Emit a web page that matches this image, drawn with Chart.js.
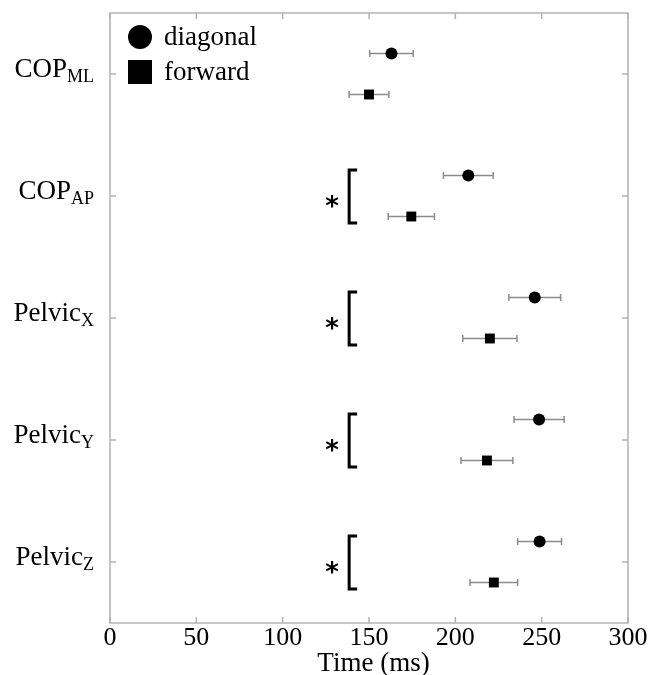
<!DOCTYPE html>
<html>
<head>
<meta charset="utf-8">
<script src="https://cdn.jsdelivr.net/npm/chart.js@4/dist/chart.umd.min.js"></script>
<style>
html,body{margin:0;padding:0;background:#fff;}
#wrap{width:652px;height:675px;position:relative;}
</style>
</head>
<body>
<div id="wrap"><canvas id="c" width="652" height="675"></canvas></div>
<script>
// ---- data ----
const categories = ["COP", "COP", "Pelvic", "Pelvic", "Pelvic"];
const categorySubs = ["ML", "AP", "X", "Y", "Z"];
const diagonalMean = [163, 207.5, 246, 248.5, 248.8];
const diagonalErr  = [12.6, 14.4, 15, 14.5, 12.7];
const forwardMean  = [150, 174.5, 220, 218.3, 222.3];
const forwardErr   = [11.5, 13.4, 15.7, 15, 13.8];
const significant  = [false, true, true, true, true];
const xTicks = [0, 50, 100, 150, 200, 250, 300];
const seriesNames = ["diagonal", "forward"];
const xTitle = "Time (ms)";

const SERIF = '"Liberation Serif", "Times New Roman", serif';
const OFF = 0.168;
const BORDER = '#b3b3b3';

const diagPts = diagonalMean.map((v, i) => ({x: v, y: i - OFF, e: diagonalErr[i]}));
const fwdPts  = forwardMean.map((v, i) => ({x: v, y: i + OFF, e: forwardErr[i]}));

const decor = {
  id: 'decor',
  beforeDatasetsDraw(chart) {
    const {ctx, chartArea: a, scales: {x, y}} = chart;
    ctx.save();
    // frame
    ctx.strokeStyle = BORDER;
    ctx.lineWidth = 1.5;
    ctx.strokeRect(a.left, a.top, a.right - a.left, a.bottom - a.top);
    // inward ticks
    ctx.beginPath();
    xTicks.forEach(v => {
      const px = x.getPixelForValue(v);
      ctx.moveTo(px, a.bottom); ctx.lineTo(px, a.bottom - 6);
      ctx.moveTo(px, a.top); ctx.lineTo(px, a.top + 6);
    });
    categories.forEach((c, i) => {
      const py = y.getPixelForValue(i);
      ctx.moveTo(a.left, py); ctx.lineTo(a.left + 6, py);
      ctx.moveTo(a.right, py); ctx.lineTo(a.right - 6, py);
    });
    ctx.stroke();
    // error bars
    ctx.strokeStyle = '#8c8c8c';
    ctx.lineWidth = 1.5;
    [diagPts, fwdPts].forEach(pts => pts.forEach(p => {
      const py = y.getPixelForValue(p.y);
      const x0 = x.getPixelForValue(p.x - p.e), x1 = x.getPixelForValue(p.x + p.e);
      ctx.beginPath();
      ctx.moveTo(x0, py); ctx.lineTo(x1, py);
      ctx.moveTo(x0, py - 3.5); ctx.lineTo(x0, py + 3.5);
      ctx.moveTo(x1, py - 3.5); ctx.lineTo(x1, py + 3.5);
      ctx.stroke();
    }));
    // y labels with subscripts
    ctx.fillStyle = '#000';
    ctx.textBaseline = 'alphabetic';
    ctx.textAlign = 'left';
    categories.forEach((c, i) => {
      const py = y.getPixelForValue(i);
      ctx.font = '27px ' + SERIF;
      const mw = ctx.measureText(c).width;
      ctx.font = '18px ' + SERIF;
      const sw = ctx.measureText(categorySubs[i]).width;
      const sx = 94 - mw - sw;
      ctx.font = '27px ' + SERIF;
      ctx.fillText(c, sx, py + 3);
      ctx.font = '18px ' + SERIF;
      ctx.fillText(categorySubs[i], sx + mw, py + 8);
    });
    // significance brackets
    significant.forEach((s, i) => {
      if (!s) return;
      const py = y.getPixelForValue(i);
      const bx = x.getPixelForValue(138.5);
      const top = py - 26, bot = py + 27;
      ctx.strokeStyle = '#000';
      ctx.lineWidth = 3;
      ctx.lineJoin = 'miter';
      ctx.beginPath();
      ctx.moveTo(bx + 8, top); ctx.lineTo(bx, top); ctx.lineTo(bx, bot); ctx.lineTo(bx + 8, bot);
      ctx.stroke();
      ctx.font = 'bold 26px "DejaVu Sans", sans-serif';
      ctx.textAlign = 'center';
      ctx.textBaseline = 'middle';
      ctx.fillText('*', bx - 17, py + 12);
      ctx.textAlign = 'left';
      ctx.textBaseline = 'alphabetic';
    });
    // legend
    ctx.fillStyle = '#000';
    ctx.beginPath();
    ctx.arc(a.left + 30, a.top + 24, 12, 0, Math.PI * 2);
    ctx.fill();
    ctx.fillRect(a.left + 18, a.top + 47, 24, 24);
    ctx.font = '27px ' + SERIF;
    ctx.textBaseline = 'alphabetic';
    ctx.fillText(seriesNames[0], a.left + 54, a.top + 32);
    ctx.fillText(seriesNames[1], a.left + 54, a.top + 67);
    // x axis title
    ctx.font = '27px ' + SERIF;
    ctx.textAlign = 'center';
    ctx.textBaseline = 'alphabetic';
    ctx.fillText(xTitle, (a.left + a.right) / 2 + 4.5, 671);
    ctx.restore();
  }
};

new Chart(document.getElementById('c'), {
  type: 'scatter',
  data: {
    datasets: [
      {label: seriesNames[0], data: diagPts, pointStyle: 'circle', pointRadius: 6,
       backgroundColor: '#000', borderColor: '#000', borderWidth: 0},
      {label: seriesNames[1], data: fwdPts, pointStyle: 'rect', pointRadius: 7,
       backgroundColor: '#000', borderColor: '#000', borderWidth: 0}
    ]
  },
  options: {
    responsive: false,
    animation: false,
    events: [],
    layout: {padding: {top: 13, right: 24, left: 0, bottom: 0}},
    plugins: {legend: {display: false}, tooltip: {enabled: false}},
    scales: {
      x: {
        type: 'linear', min: 0, max: 300,
        afterBuildTicks(s) { s.ticks = xTicks.map(v => ({value: v})); },
        afterFit(s) { s.height = 52; },
        grid: {display: false, drawTicks: false},
        border: {display: false},
        ticks: {color: '#000', font: {family: SERIF, size: 26}, padding: 0, maxRotation: 0},
        title: {display: false}
      },
      y: {
        type: 'linear', min: -0.5, max: 4.5, reverse: true,
        afterFit(s) { s.width = 110; },
        grid: {display: false, drawTicks: false},
        border: {display: false},
        ticks: {display: false, stepSize: 1}
      }
    }
  },
  plugins: [decor]
});
</script>
</body>
</html>
